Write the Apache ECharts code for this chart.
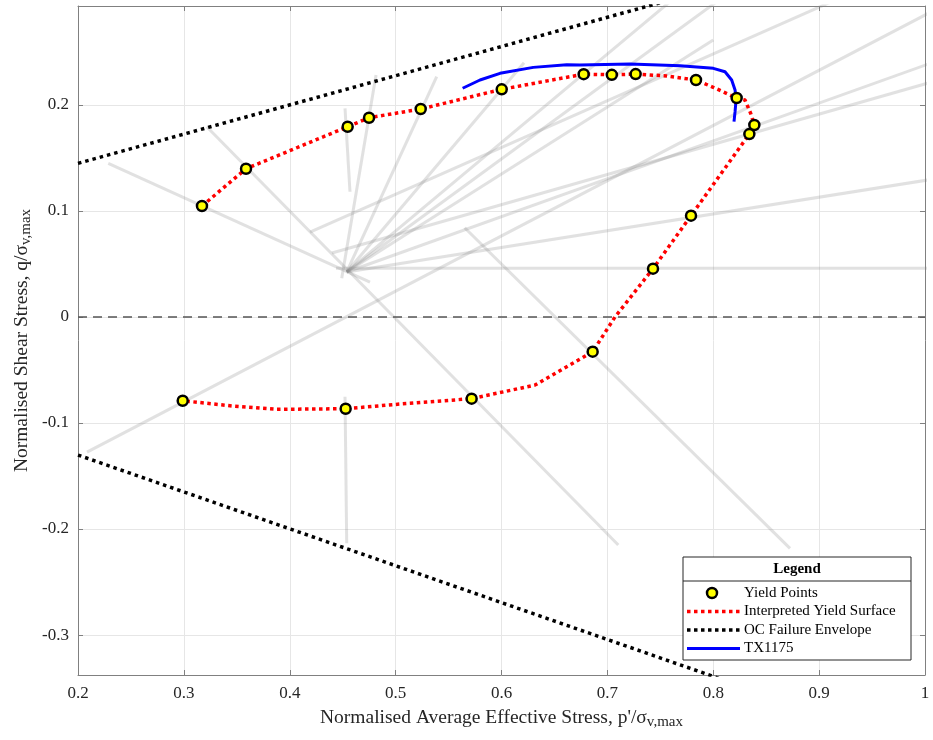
<!DOCTYPE html>
<html>
<head>
<meta charset="utf-8">
<script src="https://cdn.jsdelivr.net/npm/echarts@6/dist/echarts.min.js"></script>
<style>
html,body{margin:0;padding:0;background:#fff;}
#chart{width:933px;height:740px;}
</style>
</head>
<body>
<div id="chart"></div>
<script>
// ---- data ----
const xTicks = [0.2,0.3,0.4,0.5,0.6,0.7,0.8,0.9,1];
const yTicks = [-0.3,-0.2,-0.1,0,0.1,0.2];

const yieldP = [0.2989,0.3171,0.3587,0.4547,0.4749,0.5237,0.6002,0.6776,0.7042,0.7267,0.7837,0.8221,0.8388,0.8341,0.7790,0.7431,0.6861,0.5718,0.4528];
const yieldQ = [-0.079,0.1047,0.1399,0.1795,0.188,0.1962,0.2148,0.2291,0.2285,0.2292,0.2236,0.2066,0.1811,0.1726,0.0956,0.0456,-0.0327,-0.077,-0.0865];

const surfP = [0.3171,0.3587,0.4547,0.4749,0.5237,0.6002,0.6776,0.7042,0.7267,0.756,0.7837,0.80,0.8221,0.83,0.8353,0.8388,0.8341,0.7790,0.7431,0.7072,0.6861,0.6316,0.5718,0.5041,0.4528,0.3877,0.3467,0.2989];
const surfQ = [0.1047,0.1399,0.1795,0.188,0.1962,0.2148,0.2291,0.2285,0.2292,0.2274,0.2236,0.2167,0.2066,0.2047,0.1922,0.1811,0.1726,0.0956,0.0456,0,-0.0327,-0.0642,-0.077,-0.0821,-0.0865,-0.0871,-0.084,-0.079];

const envUpperP = [0.2,0.8];
const envUpperQ = [0.145,0.3103];
const envLowerP = [0.2,0.85];
const envLowerQ = [-0.1302,-0.3564];

const txP = [0.5633,0.5797,0.5986,0.63,0.6616,0.6741,0.7214,0.7686,0.8001,0.8111,0.8174,0.8206,0.8215,0.8206,0.8196];
const txQ = [0.2158,0.2236,0.2299,0.2355,0.238,0.2377,0.2387,0.2371,0.2346,0.2314,0.2236,0.2142,0.2047,0.1937,0.1843];

const zeroP = [0.2,1];
const zeroQ = [0,0];

// background stress paths: [p1,q1,p2,q2]
const grayPaths = [
  [0.2286,0.145,0.4758,0.033],
  [0.3216,0.1795,0.7103,-0.2151],
  [0.5652,0.0842,0.8725,-0.2182],
  [0.4522,0.1969,0.4569,0.1182],
  [0.4522,-0.0752,0.4538,-0.2135],
  [0.4491,0.0365,0.4815,0.2283],
  [0.4538,0.0425,0.5388,0.2267],
  [0.4538,0.0425,0.6213,0.2399],
  [0.4538,0.0425,0.778,0.3132],
  [0.4538,0.0425,0.8158,0.3066],
  [0.4538,0.0425,0.8,0.2613],
  [0.4191,0.0802,0.9197,0.301],
  [0.2085,-0.1274,1.0094,0.2898],
  [0.4538,0.0425,1.0047,0.2392],
  [0.4399,0.0604,1.0047,0.2212],
  [0.4538,0.0425,1.0047,0.1296],
  [0.4437,0.0459,1.0047,0.0459]
];

const legendLabels = ['Yield Points','Interpreted Yield Surface','OC Failure Envelope','TX1175'];

// ---- helpers ----
const zip = (a,b) => a.map((v,i)=>[v,b[i]]);
const FONT = '"Liberation Serif","Times New Roman",serif';
const AX = '#808080';
const TXT = '#262626';

const series = [];
grayPaths.forEach(g => {
  series.push({type:'line', data:[[g[0],g[1]],[g[2],g[3]]], showSymbol:false, symbol:'none',
    lineStyle:{color:'#808080', opacity:0.24, width:3}, silent:true, z:1});
});
series.push({type:'line', data:zip(zeroP,zeroQ), symbol:'none', lineStyle:{color:'#555', width:1.5, type:[9,6]}, z:2});
series.push({type:'line', data:zip(envUpperP,envUpperQ), symbol:'none', lineStyle:{color:'#000', width:3.5, type:[3.5,4], cap:'butt'}, z:3});
series.push({type:'line', data:zip(envLowerP,envLowerQ), symbol:'none', lineStyle:{color:'#000', width:3.5, type:[3.5,4], cap:'butt'}, z:3});
series.push({type:'line', data:zip(surfP,surfQ), symbol:'none', lineStyle:{color:'#ff0000', width:3.5, type:[3.5,3.5], cap:'butt'}, z:4});
series.push({type:'line', data:zip(txP,txQ), symbol:'none', lineStyle:{color:'#0000ff', width:3}, z:5});
series.push({type:'scatter', data:zip(yieldP,yieldQ), symbol:'circle', symbolSize:10,
  itemStyle:{color:'#ffff00', borderColor:'#000', borderWidth:2.5, opacity:1}, z:6});

// legend drawn as graphic
const LX = 683, LY = 557, LW = 228, LH = 103;
const rowY = [593, 611.5, 630, 648.5];
const graphic = [
  {type:'rect', shape:{x:LX, y:LY, width:LW, height:LH}, style:{fill:'#fff', stroke:'#262626', lineWidth:1}, z:100},
  {type:'line', shape:{x1:LX, y1:581, x2:LX+LW, y2:581}, style:{stroke:'#262626', lineWidth:1}, z:101},
  {type:'text', x:LX+LW/2, y:569.5, style:{text:'Legend', font:'bold 15px '+FONT, fill:'#000', textAlign:'center', textVerticalAlign:'middle'}, z:101},
  {type:'circle', shape:{cx:712, cy:rowY[0], r:5}, style:{fill:'#ffff00', stroke:'#000', lineWidth:2.5}, z:101},
  {type:'line', shape:{x1:687, y1:rowY[1], x2:740, y2:rowY[1]}, style:{stroke:'#ff0000', lineWidth:3.5, lineDash:[3.5,3.5]}, z:101},
  {type:'line', shape:{x1:687, y1:rowY[2], x2:740, y2:rowY[2]}, style:{stroke:'#000', lineWidth:3.5, lineDash:[3.5,3.5]}, z:101},
  {type:'line', shape:{x1:687, y1:rowY[3], x2:740, y2:rowY[3]}, style:{stroke:'#0000ff', lineWidth:3}, z:101}
];
legendLabels.forEach((t,i)=>{
  graphic.push({type:'text', x:744, y:rowY[i], style:{text:t, font:'15px '+FONT, fill:'#000', textAlign:'left', textVerticalAlign:'middle'}, z:101});
});

const richName = {
  a:{fontSize:19.5, fontFamily:FONT, color:TXT, lineHeight:22, verticalAlign:'top'},
  b:{fontSize:15, fontFamily:FONT, color:TXT, lineHeight:14, padding:[16,0,0,0], verticalAlign:'bottom'}
};

const xMin = xTicks[0], xMax = xTicks[xTicks.length-1];
const yMin = -0.3377, yMax = 0.2934;

const chart = echarts.init(document.getElementById('chart'), null, {renderer:'canvas'});
chart.setOption({
  animation:false,
  backgroundColor:'#fff',
  grid:{left:78, right:8, top:6, bottom:65, containLabel:false, outerBoundsMode:'none'},
  xAxis:[{
    type:'value', position:'bottom', min:xMin, max:xMax, interval:0.1,
    axisLine:{show:true, onZero:false, lineStyle:{color:AX, width:1}},
    axisTick:{show:true, inside:true, length:5, lineStyle:{color:AX}},
    axisLabel:{show:true, margin:10, fontFamily:FONT, fontSize:17, color:TXT,
      formatter:v=>String(Math.round(v*10)/10)},
    splitLine:{show:true, lineStyle:{color:'#e6e6e6', width:1}},
    name:'{a|Normalised Average Effective Stress, p\'/σ}{b|v,max}',
    nameLocation:'middle', nameGap:33, nameMoveOverlap:false,
    nameTextStyle:{rich:richName}
  },{
    type:'value', position:'top', min:xMin, max:xMax, interval:0.1,
    axisLine:{show:true, onZero:false, lineStyle:{color:AX, width:1}},
    axisTick:{show:true, inside:true, length:5, lineStyle:{color:AX}},
    axisLabel:{show:false}, splitLine:{show:false}
  }],
  yAxis:[{
    type:'value', position:'left', min:yMin, max:yMax,
    axisLine:{show:true, onZero:false, lineStyle:{color:AX, width:1}},
    axisTick:{show:true, inside:true, length:5, lineStyle:{color:AX}},
    axisLabel:{show:true, margin:9, fontFamily:FONT, fontSize:17, color:TXT, showMinLabel:false, showMaxLabel:false,
      formatter:v=>{const r=Math.round(v*10)/10; return yTicks.indexOf(r)>=0 && Math.abs(v-r)<1e-6 ? String(r) : '';}},
    splitLine:{show:true, lineStyle:{color:'#e6e6e6', width:1}},
    name:'{a|Normalised Shear Stress, q/σ}{b|v,max}',
    nameLocation:'middle', nameGap:44, nameRotate:90, nameMoveOverlap:false,
    nameTextStyle:{rich:richName}
  },{
    type:'value', position:'right', min:yMin, max:yMax,
    axisLine:{show:true, onZero:false, lineStyle:{color:AX, width:1}},
    axisTick:{show:true, inside:true, length:5, lineStyle:{color:AX}},
    axisLabel:{show:false}, splitLine:{show:false}
  }],
  series:series,
  graphic:graphic
});
</script>
</body>
</html>
